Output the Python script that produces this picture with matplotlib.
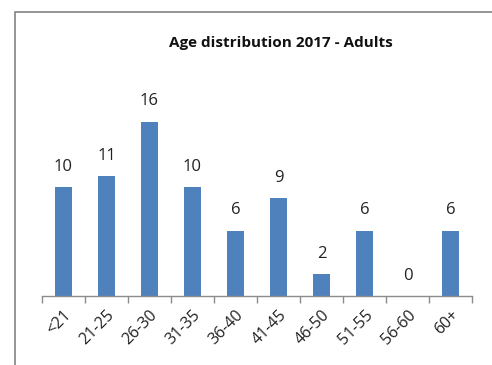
import matplotlib
matplotlib.use("Agg")
import matplotlib.pyplot as plt
from matplotlib.patches import Rectangle

categories = ["<21", "21-25", "26-30", "31-35", "36-40", "41-45", "46-50", "51-55", "56-60", "60+"]
counts = [10, 11, 16, 10, 6, 9, 2, 6, 0, 6]
title = "Age distribution 2017 - Adults"

W, H = 492, 365
fig = plt.figure(figsize=(W / 100, H / 100), dpi=100)
fig.patch.set_facecolor("white")

# chart frame (runs off the right and bottom edges)
fig.patches.append(Rectangle((15 / W, -0.1), 1.2, 1 - 12 / H + 0.1,
                             transform=fig.transFigure, fill=False,
                             edgecolor="#8c8c8c", linewidth=1.3))

left, right, bottom = 42 / W, 472 / W, (H - 296) / H
top = (H - 100) / H
ax = fig.add_axes([left, bottom, right - left, top - bottom])

x = list(range(len(categories)))
ax.bar(x, counts, width=0.4, color="#4F81BD", zorder=2)
ax.set_xlim(-0.5, len(categories) - 0.5)
ax.set_ylim(0, 18)

for xi, v in zip(x, counts):
    ax.annotate(str(v), (xi, v), xytext=(0, 9), textcoords="offset points",
                ha="center", va="bottom", fontsize=12, color="#222222",
                family="Open Sans", annotation_clip=False)

for s in ["top", "right", "left"]:
    ax.spines[s].set_visible(False)
ax.spines["bottom"].set_color("#8c8c8c")
ax.spines["bottom"].set_linewidth(1.0)
ax.set_yticks([])

ax.set_xticks(x)
ax.set_xticklabels(categories, rotation=45, ha="right", rotation_mode="anchor",
                   fontsize=11.5, family="Open Sans", color="#222222")
ax.tick_params(axis="x", which="major", length=0, pad=8)
ax.set_xticks([i - 0.5 for i in range(len(categories) + 1)], minor=True)
ax.tick_params(axis="x", which="minor", length=5, color="#8c8c8c", width=1)

fig.text(281 / W, 1 - 43 / H, title, ha="center", va="center",
         fontsize=11, fontweight="bold", family="Open Sans", color="#111111")

fig.savefig("out.png", dpi=100)
